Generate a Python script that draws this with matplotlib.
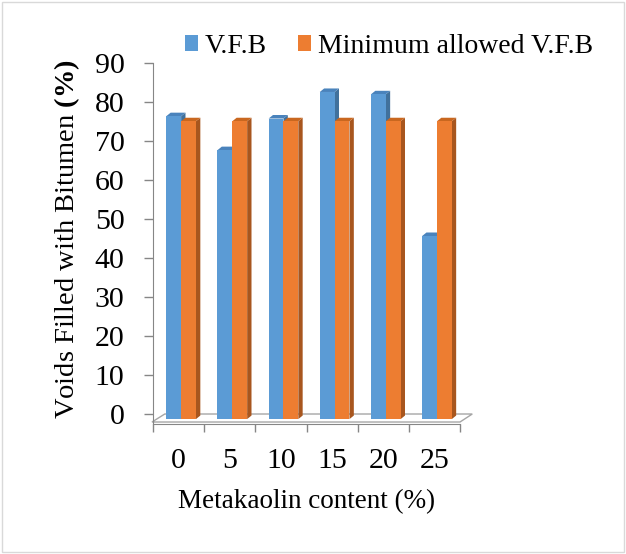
import matplotlib
matplotlib.use("Agg")
import matplotlib.pyplot as plt
from matplotlib.patches import Polygon, Rectangle
import numpy as np

plt.rcParams['font.family'] = ['Liberation Serif', 'DejaVu Serif']
plt.rcParams['mathtext.fontset'] = 'custom'
plt.rcParams['mathtext.rm'] = 'Liberation Serif'
plt.rcParams['mathtext.bf'] = 'Liberation Serif:bold'

categories = ['0', '5', '10', '15', '20', '25']
vfb = [76.3, 67.6, 75.7, 82.5, 81.9, 45.6]
min_vfb = [75, 75, 75, 75, 75, 75]
yticks = [0, 10, 20, 30, 40, 50, 60, 70, 80, 90]

W, H = 626, 554
fig = plt.figure(figsize=(W / 100, H / 100), dpi=100)
fig.patches.append(Rectangle((2 / W, 2 / H), 1 - 4 / W, 1 - 4 / H, transform=fig.transFigure,
                             fill=False, edgecolor='#D9D9D9', linewidth=1.0))

ax = fig.add_axes([153 / W, (H - 424) / H, 307 / W, (424 - 62.7) / H])
ax.set_xlim(-0.5, len(categories) - 0.5)
ax.set_ylim(-2.56, 90)

x = np.arange(len(categories))
floor_front = -1.3
dx, dy = 0.085, 0.9
bw = 0.29
blue, blue_side, blue_top = '#5B9BD5', '#41719C', '#4A83BC'
orng, orng_side, orng_top = '#ED7D31', '#A8561E', '#C9671F'

# floor
floor = Polygon([(-0.52, -2.05), (5.5, -2.05), (5.74, 0.0), (-0.27, 0.0)], closed=True,
                facecolor='white', edgecolor='#A6A6A6', linewidth=1.0, clip_on=False, zorder=1)
ax.add_patch(floor)


def draw_3d(lefts, vals, face, side, top, label, z):
    bars = ax.bar(lefts, np.array(vals) - floor_front, width=bw, bottom=floor_front, align='edge',
                  color=face, label=label, zorder=z + 0.1, linewidth=0)
    for b in bars:
        x0 = b.get_x()
        x1 = x0 + b.get_width()
        y0 = b.get_y()
        y1 = y0 + b.get_height()
        ax.add_patch(Polygon([(x1, y0), (x1 + dx, y0 + dy), (x1 + dx, y1 + dy), (x1, y1)],
                             closed=True, facecolor=side, linewidth=0, zorder=z, clip_on=False))
        ax.add_patch(Polygon([(x0, y1), (x0 + dx, y1 + dy), (x1 + dx, y1 + dy), (x1, y1)],
                             closed=True, facecolor=top, linewidth=0, zorder=z, clip_on=False))
    return bars


b1 = draw_3d(x - 0.24, vfb, blue, blue_side, blue_top, 'V.F.B', 3)
b2 = draw_3d(x + 0.05, min_vfb, orng, orng_side, orng_top, 'Minimum allowed V.F.B', 4)

axis_col = '#868686'
for s in ['top', 'right']:
    ax.spines[s].set_visible(False)
ax.spines['left'].set_color(axis_col)
ax.spines['bottom'].set_color(axis_col)
ax.spines['left'].set_bounds(-2.56, 90)

ax.set_yticks(yticks)
ax.set_yticklabels([str(v) for v in yticks], fontsize=21.5)
ax.tick_params(axis='y', length=6.5, width=1, color=axis_col, pad=14)

ax.set_xticks(x)
ax.set_xticklabels(categories, fontsize=21.5)
ax.set_xticks(np.arange(-0.5, len(categories)), minor=True)
ax.tick_params(axis='x', which='major', length=0, pad=17)
ax.tick_params(axis='x', which='minor', length=6, width=1, color=axis_col)

fig.text(67 / W, 1 - 239 / H, 'Voids Filled with Bitumen $\\mathbf{(\\%)}$', rotation=90,
         ha='center', va='center', fontsize=20.5)
fig.text(307 / W, 1 - 502 / H, 'Metakaolin content (%)', ha='center', va='center', fontsize=19.5)

leg = fig.legend(handles=[b1, b2], labels=['V.F.B', 'Minimum allowed V.F.B'], ncol=2,
                 loc='center left', bbox_to_anchor=(185 / W, 1 - 46.5 / H), frameon=False,
                 fontsize=20, handlelength=0.47, handleheight=0.47, handletextpad=0.25,
                 columnspacing=1.1, borderaxespad=0, borderpad=0)

fig.savefig('out.png', dpi=100)
